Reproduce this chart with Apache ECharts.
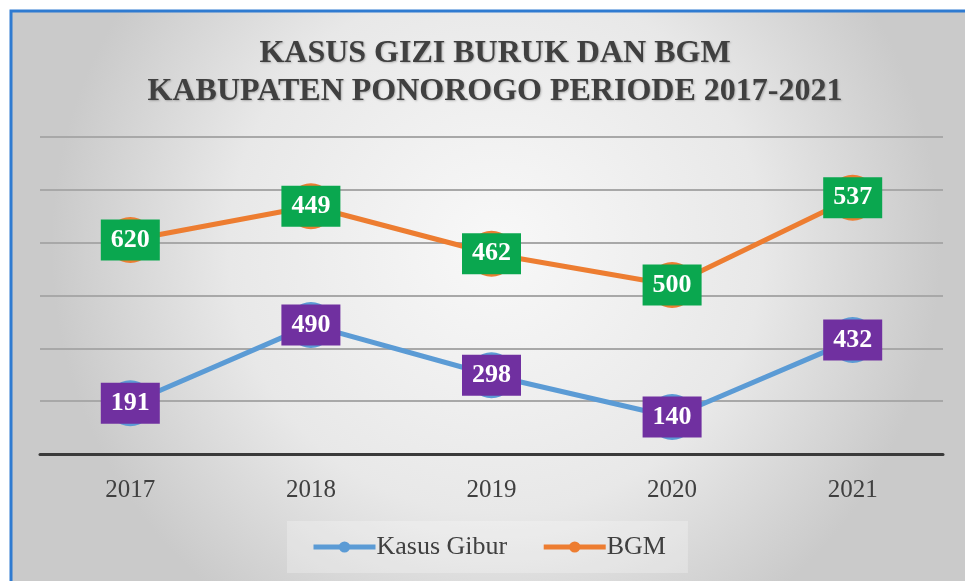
<!DOCTYPE html>
<html>
<head>
<meta charset="utf-8">
<script src="https://cdn.jsdelivr.net/npm/echarts@6/dist/echarts.min.js"></script>
<style>
  html, body { margin: 0; padding: 0; background: #fff; }
  #main { width: 965px; height: 581px; }
</style>
</head>
<body>
<div id="main"></div>
<script>
// categories
var years = ['2017', '2018', '2019', '2020', '2021'];
// plotted heights (hidden scale 0-600)
var gibur = [96, 244, 149, 70, 216];
var bgm = [405, 469, 379, 320, 485];
// the numbers written on the data labels
var giburLabels = ['191', '490', '298', '140', '432'];
var bgmLabels = ['620', '449', '462', '500', '537'];

var serif = '"Liberation Serif", "Times New Roman", serif';

var myChart = echarts.init(document.getElementById('main'));

function labelStyle(texts, bg) {
    return {
        show: true,
        position: 'inside',
        formatter: function (p) { return texts[p.dataIndex]; },
        color: '#fff',
        opacity: 1,
        fontFamily: serif,
        fontWeight: 'bold',
        fontSize: 26,
        lineHeight: 25,
        backgroundColor: bg,
        padding: [8, 10, 8, 10]
    };
}

var option = {
    backgroundColor: '#fff',
    graphic: [{
        type: 'rect',
        z: -10,
        shape: { x: 11, y: 11, width: 970, height: 590 },
        style: {
            fill: new echarts.graphic.RadialGradient(0.5, 0.4, 0.75, [
                { offset: 0, color: '#f8f8f8' },
                { offset: 0.6, color: '#e8e8e8' },
                { offset: 1, color: '#cacaca' }
            ]),
            stroke: '#2f7bd1',
            lineWidth: 3
        }
    }],
    title: {
        text: 'KASUS GIZI BURUK DAN BGM\nKABUPATEN PONOROGO PERIODE 2017-2021',
        left: 490,
        textAlign: 'center',
        top: 30,
        textStyle: {
            fontFamily: serif,
            fontWeight: 'bold',
            fontSize: 32,
            lineHeight: 38,
            color: '#404040',
            textShadowColor: 'rgba(0,0,0,0.25)',
            textShadowBlur: 2,
            textShadowOffsetX: 1,
            textShadowOffsetY: 1
        }
    },
    legend: {
        data: ['Kasus Gibur', 'BGM'],
        left: 287,
        top: 521,
        padding: [13, 22, 13, 24],
        itemGap: 34,
        itemWidth: 62,
        itemHeight: 14,
        backgroundColor: 'rgba(255,255,255,0.25)',
        lineStyle: { width: 5 },
        textStyle: {
            fontFamily: serif,
            fontSize: 26,
            color: '#404040',
            padding: [0, 0, 0, -4]
        }
    },
    grid: { left: 40, right: 22, top: 137, bottom: 127 },
    xAxis: {
        type: 'category',
        data: years,
        boundaryGap: true,
        axisLine: { lineStyle: { color: '#3a3a3a', width: 3 } },
        axisTick: { show: false },
        axisLabel: {
            margin: 24,
            fontFamily: serif,
            fontSize: 25,
            color: '#404040'
        }
    },
    yAxis: {
        type: 'value',
        min: 0,
        max: 600,
        interval: 100,
        axisLabel: { show: false },
        axisLine: { show: false },
        axisTick: { show: false },
        splitLine: { lineStyle: { color: '#a8a8a8', width: 2 } }
    },
    series: [
        {
            name: 'Kasus Gibur',
            type: 'line',
            data: gibur,
            symbol: 'circle',
            symbolSize: 46,
            lineStyle: { color: '#5b9bd5', width: 5 },
            itemStyle: { color: '#5b9bd5' },
            label: labelStyle(giburLabels, '#7030a0'),
            z: 3
        },
        {
            name: 'BGM',
            type: 'line',
            data: bgm,
            symbol: 'circle',
            symbolSize: 46,
            lineStyle: { color: '#ed7d31', width: 5 },
            itemStyle: { color: '#ed7d31' },
            label: labelStyle(bgmLabels, '#0aa74f'),
            z: 3
        }
    ]
};

myChart.setOption(option);
</script>
</body>
</html>
